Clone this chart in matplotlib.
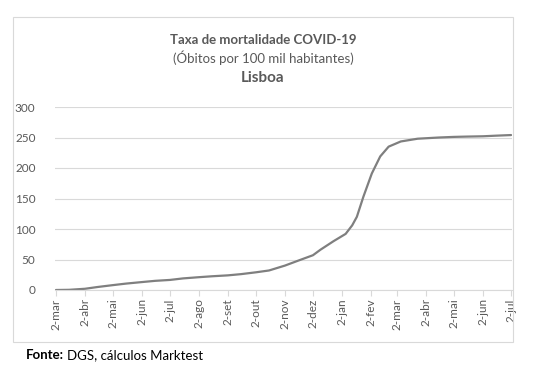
import matplotlib
matplotlib.use('Agg')
import matplotlib.pyplot as plt
from matplotlib.patches import Rectangle
import numpy as np

plt.rcParams['font.family'] = ['Lato', 'DejaVu Sans']

# dados (óbitos por 100 mil habitantes, Lisboa)
datas = ['2020-03-02', '2020-03-16', '2020-04-02', '2020-04-16', '2020-05-02',
         '2020-05-16', '2020-06-02', '2020-06-16', '2020-07-02', '2020-07-16',
         '2020-08-02', '2020-08-16', '2020-09-02', '2020-09-16', '2020-10-02',
         '2020-10-16', '2020-11-02', '2020-11-16', '2020-12-02', '2020-12-10',
         '2020-12-24', '2021-01-06', '2021-01-13', '2021-01-18', '2021-01-25',
         '2021-02-03', '2021-02-12', '2021-02-21', '2021-03-06', '2021-03-24',
         '2021-04-16', '2021-05-02', '2021-05-16', '2021-06-02', '2021-06-16',
         '2021-07-02']
taxa = [0, 0.3, 2, 5, 8, 10.5, 13, 15, 16.5, 19,
        21, 22.5, 24, 26, 29, 32, 40, 48, 57, 66,
        80, 92, 106, 120, 153, 191, 219, 235, 243.5, 248,
        250, 251, 251.5, 252, 253, 254]

tick_datas = ['2020-03-02', '2020-04-02', '2020-05-02', '2020-06-02', '2020-07-02',
              '2020-08-02', '2020-09-02', '2020-10-02', '2020-11-02', '2020-12-02',
              '2021-01-02', '2021-02-02', '2021-03-02', '2021-04-02', '2021-05-02',
              '2021-06-02', '2021-07-02']
tick_labels = ['2-mar', '2-abr', '2-mai', '2-jun', '2-jul', '2-ago', '2-set', '2-out',
               '2-nov', '2-dez', '2-jan', '2-fev', '2-mar', '2-abr', '2-mai', '2-jun',
               '2-jul']

cinza = '#595959'
grelha = '#d9d9d9'

fig = plt.figure(figsize=(5.4, 3.75), dpi=100)
fig.patches.append(Rectangle((13 / 540, 1 - 342 / 375), 500 / 540, 325 / 375,
                             transform=fig.transFigure, fill=False,
                             edgecolor=grelha, linewidth=0.8))

ax = fig.add_axes([55 / 540, 1 - 290 / 375, 457 / 540, 183 / 375])
x = np.array(datas, dtype='datetime64[D]')
ax.plot(x, taxa, color='#7f7f7f', linewidth=1.6, solid_capstyle='round',
        solid_joinstyle='round')

ax.set_ylim(0, 300)
ax.set_yticks(range(0, 301, 50))
ax.set_xlim(np.datetime64('2020-03-01'), np.datetime64('2021-07-03'))
ax.set_xticks(np.array(tick_datas, dtype='datetime64[D]'))
ax.set_xticklabels(tick_labels, rotation=90)

ax.grid(axis='y', color=grelha, linewidth=0.8)
ax.set_axisbelow(True)
for s in ['top', 'right', 'left']:
    ax.spines[s].set_visible(False)
ax.spines['bottom'].set_color(grelha)
ax.tick_params(axis='y', length=0, labelsize=8.5, labelcolor=cinza, pad=14)
ax.tick_params(axis='x', length=4, color=grelha, labelsize=8.5, labelcolor=cinza, pad=2)

# títulos
fig.text(263 / 540, 1 - 40 / 375, 'Taxa de mortalidade COVID-19', ha='center', va='center',
         fontsize=9.5, fontweight='bold', color=cinza)
fig.text(263 / 540, 1 - 58 / 375, '(Óbitos por 100 mil habitantes)', ha='center', va='center',
         fontsize=9.5, color=cinza)
fig.text(263 / 540, 1 - 78 / 375, 'Lisboa', ha='center', va='center',
         fontsize=11, fontweight='bold', color=cinza)

# fonte
t1 = fig.text(26 / 540, 1 - 355 / 375, 'Fonte:', ha='left', va='center',
              fontsize=9.5, fontweight='bold', color='black')
fig.canvas.draw()
bb = t1.get_window_extent().transformed(fig.transFigure.inverted())
fig.text(bb.x1 + 3 / 540, 1 - 355 / 375, 'DGS, cálculos Marktest', ha='left', va='center',
         fontsize=9.5, color='black')

fig.savefig('out.png', dpi=100)
